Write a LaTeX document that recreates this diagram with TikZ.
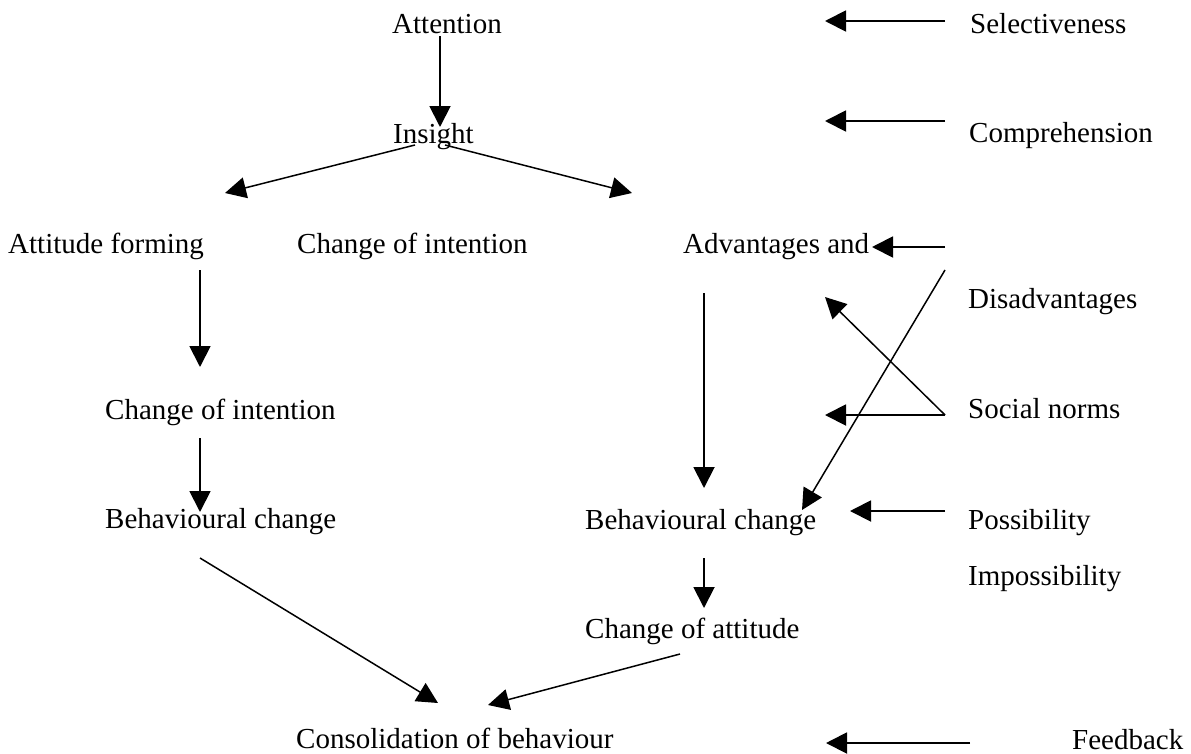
\documentclass[tikz,border=0pt]{standalone}
\usepackage{fontspec}
\setmainfont{Liberation Serif}
\usetikzlibrary{arrows.meta}
\begin{document}
\begin{tikzpicture}[x=1pt,y=-1pt,
  lbl/.style={anchor=base west, inner sep=0pt, font=\fontsize{29}{34}\selectfont},
  arr/.style={-{Triangle[length=21pt,width=21pt]}, line width=1.9pt},
  thinarr/.style={-{Triangle[length=21pt,width=21pt]}, line width=1.5pt}]
\useasboundingbox (0,0) rectangle (1191,753);

% texts
\node[lbl] (att) at (392,33) {Attention};
\node[lbl] (sel) at (970,33) {Selectiveness};
\node[lbl] (ins) at (393,143) {Insight};
\node[lbl] (com) at (969,142) {Comprehension};
\node[lbl] (af) at (8,253) {Attitude forming};
\node[lbl] (coi1) at (297,253) {Change of intention};
\node[lbl] (adv) at (683,253) {Advantages and};
\node[lbl] (dis) at (968,308) {Disadvantages};
\node[lbl] (coi2) at (105,419) {Change of intention};
\node[lbl] (soc) at (968,418) {Social norms};
\node[lbl] (bcl) at (105,528) {Behavioural change};
\node[lbl] (bcr) at (585,529) {Behavioural change};
\node[lbl] (pos) at (968,529) {Possibility};
\node[lbl] (imp) at (968,585) {Impossibility};
\node[lbl] (coa) at (585,638) {Change of attitude};
\node[lbl] (con) at (296,748) {Consolidation of behaviour};
\node[lbl] (fb) at (1072,749) {Feedback};

% arrow end points
\coordinate (a1s) at (440,36);   \coordinate (a1e) at (440,127);
\coordinate (a2s) at (415,145);  \coordinate (a2e) at (225,193);
\coordinate (a3s) at (445,145);  \coordinate (a3e) at (632,193);
\coordinate (a4s) at (945,21);   \coordinate (a4e) at (825,21);
\coordinate (a5s) at (945,121);  \coordinate (a5e) at (825,121);
\coordinate (a6s) at (200,270);  \coordinate (a6e) at (200,367);
\coordinate (a7s) at (200,438);  \coordinate (a7e) at (200,512);
\coordinate (a8s) at (200,558);  \coordinate (a8e) at (438,703);
\coordinate (a9s) at (680,654);  \coordinate (a9e) at (488,705);
\coordinate (a10s) at (704,293); \coordinate (a10e) at (704,488);
\coordinate (a11s) at (704,558); \coordinate (a11e) at (704,608);
\coordinate (a12s) at (945,247); \coordinate (a12e) at (872,247);
\coordinate (a13s) at (945,270); \coordinate (a13e) at (802,510);
\coordinate (soct) at (945,415);
\coordinate (a14e) at (825,297);
\coordinate (a15e) at (825,415);
\coordinate (a16s) at (945,511); \coordinate (a16e) at (850,511);
\coordinate (a17s) at (970,743); \coordinate (a17e) at (826,743);

\draw[arr] (a1s) -- (a1e);
\draw[thinarr] (a2s) -- (a2e);
\draw[thinarr] (a3s) -- (a3e);
\draw[arr] (a4s) -- (a4e);
\draw[arr] (a5s) -- (a5e);
\draw[arr] (a6s) -- (a6e);
\draw[arr] (a7s) -- (a7e);
\draw[thinarr] (a8s) -- (a8e);
\draw[thinarr] (a9s) -- (a9e);
\draw[arr] (a10s) -- (a10e);
\draw[arr] (a11s) -- (a11e);
\draw[arr] (a12s) -- (a12e);
\draw[thinarr] (a13s) -- (a13e);
\draw[thinarr] (soct) -- (a14e);
\draw[arr] (soct) -- (a15e);
\draw[arr] (a16s) -- (a16e);
\draw[arr] (a17s) -- (a17e);
\end{tikzpicture}
\end{document}
